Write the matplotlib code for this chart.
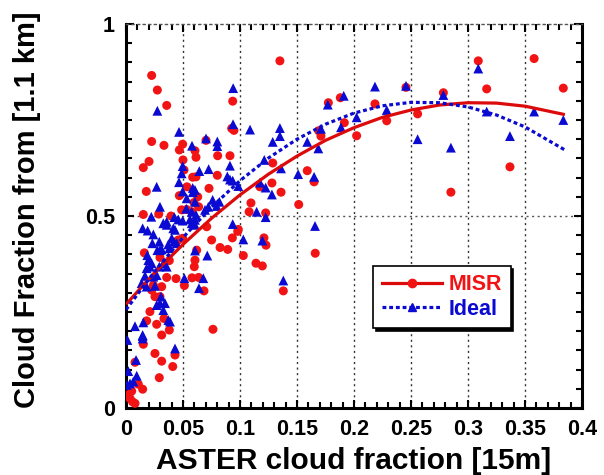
import matplotlib
matplotlib.use("Agg")
import matplotlib.pyplot as plt
from matplotlib.lines import Line2D
from matplotlib.ticker import MultipleLocator, FixedLocator

plt.rcParams['font.family'] = ['Liberation Sans', 'DejaVu Sans']
plt.rcParams['font.weight'] = 'bold'

# ---------------- data ----------------
misr_x = [0.0225, 0.0275, 0.0357, 0.135, 0.0936, 0.0927, 0.0947, 0.0225, 0.0333, 0.0152,
          0.0202, 0.0178, 0.0497, 0.0468, 0.0605, 0.0614, 0.05, 0.0702, 0.0804, 0.0912,
          0.0509, 0.0585, 0.0614, 0.0535, 0.0728, 0.0801, 0.0468, 0.0488, 0.0637, 0.0152,
          0.0287, 0.0395, 0.1287, 0.128, 0.136, 0.1096, 0.108, 0.1225, 0.1515, 0.159,
          0.165, 0.1775, 0.188, 0.1915, 0.171, 0.169, 0.0629, 0.0532, 0.0576, 0.0596,
          0.1175, 0.0708, 0.0751, 0.0825, 0.0892, 0.0933, 0.098, 0.1029, 0.121, 0.1228,
          0.114, 0.1196, 0.166, 0.138, 0.0763, 0.0605, 0.0599, 0.0512, 0.0579, 0.0637,
          0.0684, 0.0439, 0.0357, 0.0161, 0.0298, 0.038, 0.0433, 0.0497, 0.0459, 0.062,
          0.024, 0.0313, 0.0225, 0.0254, 0.0298, 0.021, 0.0181, 0.0269, 0.0333, 0.0313,
          0.038, 0.0152, 0.0254, 0.0313, 0.041, 0.043, 0.0292, 0.0079, 0.0146, 0.005,
          0.0035, 0.0079, 0.002, 0.0058, 0.0108, 0.309, 0.358, 0.3164, 0.3836, 0.2784,
          0.2456, 0.2184, 0.2287, 0.2558, 0.2023, 0.3368, 0.285, 0.0985]
misr_y = [0.866, 0.828, 0.788, 0.904, 0.799, 0.728, 0.723, 0.694, 0.684, 0.626,
          0.642, 0.564, 0.687, 0.672, 0.670, 0.653, 0.646, 0.697, 0.657, 0.657,
          0.620, 0.601, 0.602, 0.576, 0.572, 0.606, 0.553, 0.516, 0.524, 0.504,
          0.505, 0.500, 0.638, 0.586, 0.562, 0.534, 0.511, 0.508, 0.530, 0.618,
          0.589, 0.795, 0.808, 0.743, 0.708, 0.722, 0.550, 0.517, 0.511, 0.535,
          0.576, 0.472, 0.4375, 0.418, 0.413, 0.443, 0.460, 0.397, 0.443, 0.424,
          0.377, 0.370, 0.403, 0.305, 0.205, 0.385, 0.368, 0.319, 0.339, 0.340,
          0.305, 0.337, 0.340, 0.404, 0.392, 0.384, 0.430, 0.442, 0.4375, 0.411,
          0.320, 0.316, 0.307, 0.290, 0.290, 0.251, 0.227, 0.218, 0.233, 0.190,
          0.203, 0.166, 0.142, 0.122, 0.108, 0.138, 0.079, 0.119, 0.049, 0.044,
          0.025, 0.012, 0.034, 0.016, 0.062, 0.904, 0.910, 0.831, 0.833, 0.821,
          0.835, 0.792, 0.748, 0.766, 0.709, 0.628, 0.562, 0.465]

ideal_x = [0.094, 0.0275, 0.0465, 0.0939, 0.1088, 0.135, 0.135, 0.1287, 0.1213, 0.136,
           0.1175, 0.1225, 0.128, 0.151, 0.165, 0.177, 0.191, 0.1886, 0.171, 0.1687,
           0.159, 0.0579, 0.0801, 0.0801, 0.0702, 0.0497, 0.0488, 0.0465, 0.0643, 0.0725,
           0.0912, 0.0889, 0.0912, 0.0936, 0.0985, 0.0269, 0.0497, 0.0585, 0.0585, 0.0605,
           0.0298, 0.0529, 0.076, 0.0819, 0.0722, 0.0693, 0.0795, 0.0222, 0.0424, 0.0532,
           0.0605, 0.0614, 0.0576, 0.0357, 0.0497, 0.0605, 0.0605, 0.0936, 0.1029, 0.1146,
           0.1225, 0.1196, 0.1658, 0.138, 0.0713, 0.0605, 0.0512, 0.0678, 0.064, 0.0459,
           0.0561, 0.0576, 0.0146, 0.019, 0.024, 0.0327, 0.0357, 0.0415, 0.043, 0.0231,
           0.0298, 0.0292, 0.0371, 0.0401, 0.0421, 0.0445, 0.0275, 0.0313, 0.038, 0.0187,
           0.0196, 0.0225, 0.021, 0.0181, 0.0167, 0.024, 0.0269, 0.0292, 0.0327, 0.0357,
           0.0254, 0.0181, 0.0137, 0.0269, 0.0298, 0.0327, 0.0342, 0.0371, 0.0386, 0.0307,
           0.0079, 0.0012, 0.0146, 0.0146, 0.0152, 0.043, 0.0088, 0.002, 0.0035, 0.0094,
           0.0064, 0.0006, 0.0146, 0.2184, 0.2456, 0.2784, 0.309, 0.2287, 0.2023, 0.3164,
           0.358, 0.3836, 0.2558, 0.285, 0.3368]
ideal_y = [0.833, 0.774, 0.719, 0.739, 0.725, 0.729, 0.708, 0.693, 0.646, 0.624,
           0.587, 0.574, 0.556, 0.609, 0.602, 0.790, 0.813, 0.731, 0.727, 0.676,
           0.693, 0.683, 0.694, 0.682, 0.702, 0.630, 0.611, 0.588, 0.617, 0.622,
           0.631, 0.603, 0.595, 0.592, 0.578, 0.576, 0.564, 0.573, 0.562, 0.537,
           0.524, 0.519, 0.542, 0.537, 0.524, 0.516, 0.526, 0.498, 0.497, 0.546,
           0.568, 0.503, 0.511, 0.485, 0.488, 0.490, 0.477, 0.479, 0.439, 0.511,
           0.497, 0.436, 0.474, 0.332, 0.397, 0.410, 0.338, 0.338, 0.312, 0.491,
           0.491, 0.481, 0.468, 0.462, 0.452, 0.481, 0.477, 0.468, 0.464, 0.429,
           0.411, 0.433, 0.426, 0.442, 0.433, 0.429, 0.411, 0.413, 0.416, 0.398,
           0.385, 0.377, 0.368, 0.364, 0.344, 0.342, 0.346, 0.368, 0.377, 0.368,
           0.318, 0.316, 0.325, 0.268, 0.273, 0.255, 0.273, 0.229, 0.225, 0.290,
           0.213, 0.177, 0.190, 0.181, 0.223, 0.155, 0.125, 0.096, 0.064, 0.084,
           0.069, 0.060, 0.1875, 0.837, 0.839, 0.815, 0.884, 0.776, 0.757, 0.772,
           0.772, 0.750, 0.700, 0.678, 0.708]

# fitted curves
fit_x = [0.0, 0.025, 0.05, 0.075, 0.1, 0.125, 0.15, 0.175, 0.2, 0.225,
         0.25, 0.275, 0.3, 0.325, 0.35, 0.385]
misr_fit = [0.270, 0.352, 0.426, 0.494, 0.555, 0.609, 0.656, 0.697, 0.730, 0.757,
            0.776, 0.789, 0.795, 0.794, 0.786, 0.764]
ideal_fit = [0.256, 0.355, 0.444, 0.523, 0.592, 0.651, 0.700, 0.739, 0.768, 0.787,
             0.796, 0.795, 0.784, 0.763, 0.732, 0.672]

x_ticks = [0, 0.05, 0.1, 0.15, 0.2, 0.25, 0.3, 0.35, 0.4]
x_tick_labels = ['0', '0.05', '0.1', '0.15', '0.2', '0.25', '0.3', '0.35', '0.4']
y_ticks = [0, 0.5, 1]
y_tick_labels = ['0', '0.5', '1']

series_names = ['MISR', 'Ideal']
x_title = 'ASTER cloud fraction [15m]'
y_title = 'Cloud Fraction from [1.1 km]'
red = '#f21414'
red_line = '#dc0a0a'
blue = '#0a0ad2'

# ---------------- figure ----------------
fig = plt.figure(figsize=(6.04, 4.75), dpi=100)
ax = fig.add_axes([126/604, 1-408/475, 456/604, 384/475])

ax.set_xlim(0, 0.4)
ax.set_ylim(0, 1)

# grid
for xv in x_ticks[1:-1]:
    ax.axvline(xv, color='#333333', lw=1.0, ls=(0, (1.5, 2.5)), zorder=0)
ax.axhline(0.5, color='#555555', lw=1.0, ls=(0, (1.5, 2.5)), zorder=0)

ax.scatter(misr_x, misr_y, s=42, marker='o', color=red, edgecolors='none', zorder=3)
ax.scatter(ideal_x, ideal_y, s=50, marker='^', color=blue, edgecolors='none', zorder=3)

ax.plot(fit_x, misr_fit, color=red_line, lw=2.3, zorder=4, solid_capstyle='butt')
ax.plot(fit_x, ideal_fit, color=blue, lw=2.3, ls=(0, (1.2, 0.9)), zorder=4)

# spines
for s in ['left', 'bottom', 'right']:
    ax.spines[s].set_linewidth(2.2)
    ax.spines[s].set_color('black')
ax.spines['top'].set_linestyle((0, (1.5, 2.5)))
ax.spines['top'].set_color('#555555')
ax.spines['top'].set_linewidth(1.0)

ax.xaxis.set_major_locator(FixedLocator(x_ticks))
ax.set_xticklabels(x_tick_labels)
ax.yaxis.set_major_locator(FixedLocator(y_ticks))
ax.set_yticklabels(y_tick_labels)
ax.xaxis.set_minor_locator(MultipleLocator(0.01))
ax.yaxis.set_minor_locator(MultipleLocator(0.05))
ax.tick_params(which='both', direction='in', top=True, right=True, width=1.5, colors='black')
ax.tick_params(which='major', length=6, labelsize=15.5, pad=8)
ax.tick_params(which='minor', length=4)
for lab in ax.get_xticklabels() + ax.get_yticklabels():
    lab.set_fontweight('bold')

fig.text(353.5/604, 1 - 469/475, x_title, fontsize=21.5, fontweight='bold',
         ha='center', va='baseline')
fig.text(27/604, 1 - 210/475, y_title, fontsize=21, fontweight='bold',
         ha='center', va='center', rotation=90)

handles = [Line2D([], [], color=red_line, lw=2.3, marker='o', markersize=6, markerfacecolor=red,
                  markeredgecolor=red),
           Line2D([], [], color=blue, lw=2.3, ls=(0, (1.2, 0.9)), marker='^', markersize=6,
                  markerfacecolor=blue, markeredgecolor=blue)]
leg = ax.legend(handles, series_names, loc='center', bbox_to_anchor=(0.693, 0.289),
                frameon=True, fancybox=False, edgecolor='black', framealpha=1,
                shadow={'color': 'black', 'alpha': 1}, prop={'size': 15.5, 'weight': 'bold'},
                handlelength=2.8, handletextpad=0.3, borderpad=0.4, labelspacing=0.15)
leg.get_frame().set_linewidth(1.2)
leg.set_zorder(6)
for t, c in zip(leg.get_texts(), [red, blue]):
    t.set_color(c)

fig.savefig('out.png', dpi=100)
